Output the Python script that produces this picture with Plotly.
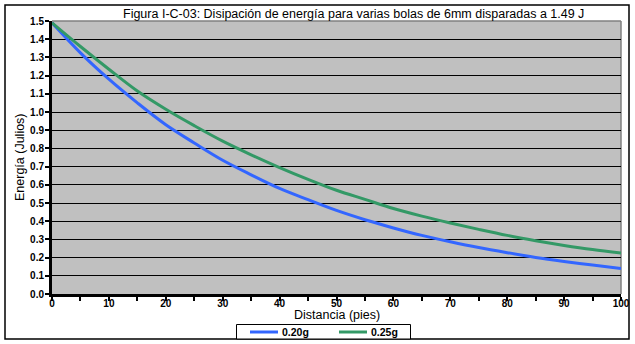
import plotly.graph_objects as go

distance = [0, 5, 10, 15, 20, 25, 30, 35, 40, 45, 50, 55, 60, 65, 70, 75, 80, 85, 90, 95, 100]
energy_020 = [1.49, 1.325, 1.18, 1.05, 0.93, 0.83, 0.735, 0.655, 0.58, 0.518, 0.459, 0.408,
              0.363, 0.322, 0.287, 0.255, 0.227, 0.201, 0.179, 0.159, 0.14]
energy_025 = [1.49, 1.36, 1.235, 1.115, 1.015, 0.925, 0.84, 0.765, 0.695, 0.63, 0.57, 0.52,
              0.47, 0.428, 0.39, 0.355, 0.322, 0.293, 0.267, 0.244, 0.225]
series_names = ["0.20g", "0.25g"]
series_colors = ["#3366FF", "#339966"]
title_text = "Figura I-C-03: Disipación de energía para varias bolas de 6mm disparadas a 1.49 J"
x_title = "Distancia (pies)"
y_title = "Energía (Julios)"

W, H = 635, 344
L, R, T, B = 52, 14, 21, 50
pw, ph = W - L - R, H - T - B

def px_x(p):
    return (p - L) / pw

def px_y(p):
    return (H - B - p) / ph

fig = go.Figure()
for name, ys, col in zip(series_names, [energy_020, energy_025], series_colors):
    fig.add_trace(go.Scatter(x=distance, y=ys, mode="lines", name=name,
                             line=dict(color=col, width=3, shape="spline")))

tickfont = dict(family="Liberation Sans", size=10, color="black", weight="bold")
txtfont = dict(family="Liberation Sans", size=12.5, color="black")
legfont = dict(family="Liberation Sans", size=10.5, color="black", weight="bold")

fig.update_layout(
    width=W, height=H,
    margin=dict(l=L, r=R, t=T, b=B, autoexpand=False),
    paper_bgcolor="white", plot_bgcolor="#C0C0C0",
    showlegend=False,
    xaxis=dict(range=[0, 100], dtick=10, tick0=0, showgrid=False, zeroline=False,
               showline=True, linecolor="black", linewidth=3,
               ticks="outside", ticklen=4, tickwidth=2, tickcolor="black",
               tickfont=tickfont, ticklabelstandoff=-6,
               minor=dict(dtick=5, ticks="outside", ticklen=4, tickwidth=2, tickcolor="black", showgrid=False)),
    yaxis=dict(range=[0, 1.5], dtick=0.1, tick0=0, tickformat=".1f", showgrid=True,
               gridcolor="black", gridwidth=1, zeroline=False,
               showline=True, linecolor="black", linewidth=3,
               ticks="outside", ticklen=4, tickwidth=2, tickcolor="black",
               tickfont=tickfont, ticklabelstandoff=-1),
)

# gray top/right plot border
fig.add_shape(type="line", xref="paper", yref="paper", x0=0, x1=1, y0=1, y1=1,
              line=dict(color="#808080", width=1.5), layer="between")
fig.add_shape(type="line", xref="paper", yref="paper", x0=1, x1=1, y0=0, y1=1,
              line=dict(color="#808080", width=1.5), layer="between")
# outer chart border
fig.add_shape(type="rect", xref="paper", yref="paper",
              x0=px_x(5), x1=px_x(629), y0=px_y(339), y1=px_y(5),
              line=dict(color="black", width=1.5), fillcolor="rgba(0,0,0,0)", layer="above")

# legend box (manual)
fig.add_shape(type="rect", xref="paper", yref="paper",
              x0=px_x(236.5), x1=px_x(410.5), y0=px_y(339), y1=px_y(324.5),
              line=dict(color="black", width=1), fillcolor="white", layer="above")
leg_line_x = [250, 339]
for name, col, lx in zip(series_names, series_colors, leg_line_x):
    fig.add_shape(type="line", xref="paper", yref="paper",
                  x0=px_x(lx), x1=px_x(lx + 28), y0=px_y(332), y1=px_y(332),
                  line=dict(color=col, width=3), layer="above")
    fig.add_annotation(text=name, xref="paper", yref="paper", x=px_x(lx + 30), y=px_y(332),
                       xanchor="left", yanchor="middle", showarrow=False, font=legfont)

fig.add_annotation(text=title_text, xref="paper", yref="paper", x=px_x(354), y=px_y(14),
                   xanchor="center", yanchor="middle", showarrow=False, font=txtfont)
fig.add_annotation(text=x_title, xref="paper", yref="paper", x=px_x(337), y=px_y(314.5),
                   xanchor="center", yanchor="middle", showarrow=False, font=txtfont)
fig.add_annotation(text=y_title, xref="paper", yref="paper", x=px_x(20), y=px_y(157),
                   xanchor="center", yanchor="middle", showarrow=False, textangle=-90, font=txtfont)

fig.write_html("out.html")
